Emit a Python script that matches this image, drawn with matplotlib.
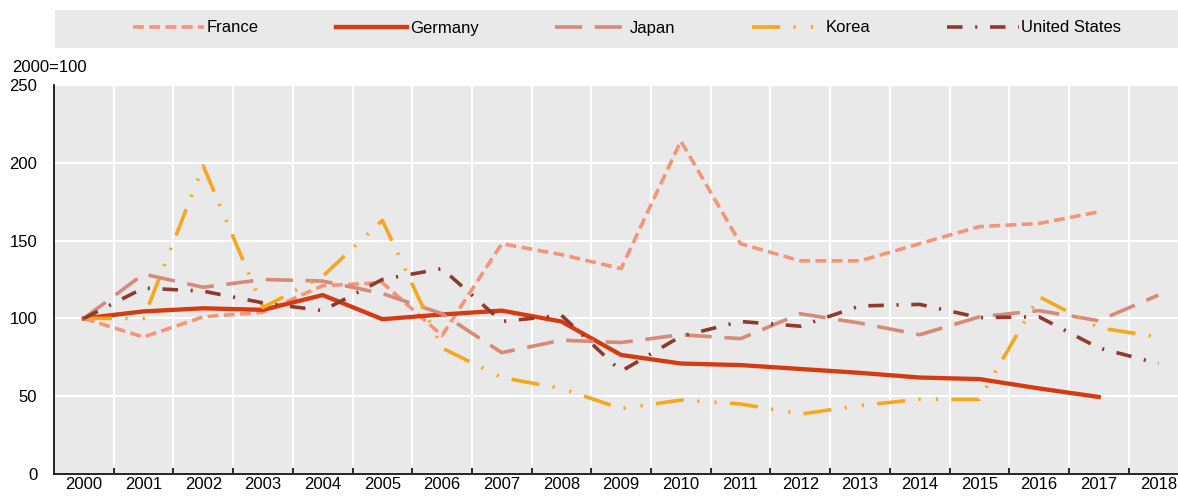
import matplotlib
matplotlib.use('Agg')
import matplotlib.pyplot as plt
from matplotlib.patches import Rectangle
import numpy as np

plt.rcParams['font.family'] = ['Liberation Sans', 'DejaVu Sans']

# Datos (indice 2000=100)
years = [str(y) for y in range(2000, 2019)]
france = [100, 88, 101, 104, 121, 123, 89, 148, 141, 132, 214, 148, 137, 137, 148, 159, 161, 168.5, np.nan]
germany = [100, 104.5, 106.5, 105.5, 115, 99.5, 102.5, 105, 98, 76.5, 71, 70, 67.5, 65, 62, 61, 55, 49.5, np.nan]
japan = [100, 128.5, 120, 125, 124, 116, 103, 78, 86, 84.5, 89.5, 87, 103, 97, 89.5, 101, 105, 98.5, 115]
korea = [100, 100, 198, 107, 127, 163, 81, 62, 55, 42, 47.5, 45, 38.5, 44, 48, 48, 114, 94, 88]
usa = [100, 119.5, 117.5, 110, 105, 125, 132, 98, 102, 66, 88.5, 98, 95, 108, 109, 100.5, 101, 81, 71]

W, H = 1178, 496
fig = plt.figure(figsize=(W / 100, H / 100), dpi=100)
ax = fig.add_axes([54 / W, 22 / H, 1 - 54 / W, (474 - 85) / H])
ax.set_facecolor('#E9E9E9')

x = np.arange(len(years))
lw = 2.6
ax.plot(x, france, color='#F4957A', lw=lw, dashes=(3, 1.5), label='France')
ax.plot(x, germany, color='#D63A12', lw=3.1, label='Germany')
ax.plot(x, japan, color='#D68A7A', lw=lw, dashes=(7.5, 3.5), label='Japan')
ax.plot(x, korea, color='#F5A81E', lw=lw, dashes=(7.8, 3.7, 0.6, 4.2, 0.6, 3.7), label='Korea')
ax.plot(x, usa, color='#8E3A2C', lw=lw, dashes=(4.3, 3.5, 0.6, 3.5), label='United States')

# Ejes
ax.set_ylim(0, 250)
ax.set_yticks(range(0, 251, 50))
ax.set_xlim(-0.5, (W - 54) / 59.7 - 0.5)
ax.set_xticks(x)
ax.set_xticklabels(years)
ax.set_xticks(np.arange(0.5, len(years) - 1, 1), minor=True)

ax.grid(axis='y', color='white', lw=1.5)
ax.grid(axis='x', which='minor', color='white', lw=1.5)
ax.set_axisbelow(True)

for s in ['top', 'right']:
    ax.spines[s].set_visible(False)
for s in ['left', 'bottom']:
    ax.spines[s].set_color('black')
    ax.spines[s].set_linewidth(1.2)

ax.tick_params(axis='x', which='major', length=0, pad=2.5, labelsize=12)
ax.tick_params(axis='x', which='minor', direction='in', length=4, width=1.2)
ax.tick_params(axis='y', length=0, pad=12, labelsize=12)

fig.text(12 / W, 1 - 68 / H, '2000=100', fontsize=12, va='center', ha='left')

# Leyenda sobre fondo gris
fig.patches.append(Rectangle((55 / W, 1 - 48 / H), 1 - 55 / W, 38 / H,
                             transform=fig.transFigure, facecolor='#E9E9E9',
                             edgecolor='none', zorder=0))
fig.legend(loc='center', bbox_to_anchor=(627 / W, 1 - 28 / H), ncol=5,
           frameon=False, fontsize=12, handlelength=4.3, handletextpad=0.15,
           columnspacing=4.6)

fig.savefig('out.png', dpi=100)
